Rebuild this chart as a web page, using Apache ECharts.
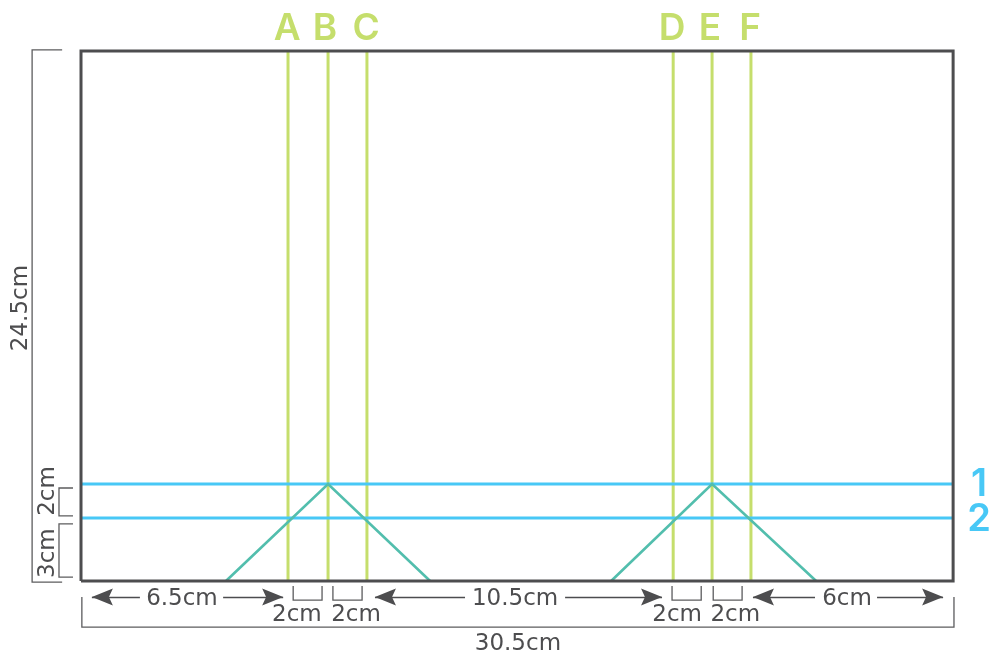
<!DOCTYPE html>
<html><head><meta charset="utf-8">
<style>html,body{margin:0;padding:0;background:#fff}#c{width:990px;height:651px}</style>
<script src="https://cdn.jsdelivr.net/npm/echarts@6/dist/echarts.min.js"></script>
</head><body><div id="c"></div>
<script>
// All values are in the drawing's horizontal / vertical chart units
const sheet = [[0,0],[30.5,0],[30.5,24.5],[0,24.5],[0,0]];
const guideNames = ['A','B','C','D','E','F'];
const guideX = [7.24,8.64,10.0,20.71,22.07,23.43];
const foldNames = ['1','2'];
const foldY = [4.48,2.91];
const peaks = [[[5.07,0],[8.64,4.48],[12.21,0]],[[18.54,0],[22.07,4.48],[25.71,0]]];
const brackets = [
  [[-0.66,24.55],[-1.71,24.55],[-1.71,-0.05],[-0.66,-0.05]],
  [[-0.28,4.30],[-0.77,4.30],[-0.77,3.01],[-0.28,3.01]],
  [[-0.28,2.64],[-0.77,2.64],[-0.77,0.18],[-0.28,0.18]],
  [[7.42,-0.23],[7.42,-0.88],[8.43,-0.88],[8.43,-0.23]],
  [[8.81,-0.23],[8.81,-0.88],[9.83,-0.88],[9.83,-0.23]],
  [[20.67,-0.23],[20.67,-0.88],[21.69,-0.88],[21.69,-0.23]],
  [[22.11,-0.23],[22.11,-0.88],[23.12,-0.88],[23.12,-0.23]],
  [[0.03,-0.74],[0.03,-2.13],[30.53,-2.13],[30.53,-0.74]]
];
const arrowY = -0.74;
const arrows = [[2.06,0.38],[4.97,7.07],[13.43,10.28],[16.93,20.32],[25.67,23.50],[27.84,30.15]];
const dimTexts = ['6.5cm','2cm','2cm','10.5cm','2cm','2cm','6cm','30.5cm'];
const dimPos = [[3.53,-0.84],[7.55,-1.58],[9.62,-1.58],[15.18,-0.84],[20.85,-1.58],[22.88,-1.58],[26.79,-0.84],[15.28,-2.92]];
const sideTexts = ['24.5cm','2cm','3cm'];
const sidePos = [[-2.10,12.62],[-1.15,4.16],[-1.15,1.29]];
const guideLabelPos = [[7.21,25.52],[8.53,25.52],[9.97,25.52],[20.67,25.52],[22.0,25.52],[23.40,25.52]];
const foldLabelPos = [[31.41,4.48],[31.41,2.82]];

const DARK='#4d4d4f', GREEN='#c5de6c', BLUE='#48c8f6', TEAL='#52bead';
const ARROW='path://M16,16 L22.5,32 L16,29 L9.5,32 Z M0,0 L0,0 Z M32,0 L32,0 Z';
const line=(data,color,width,z)=>({type:'line',data,symbol:'none',silent:true,animation:false,z,clip:false,
  lineStyle:{color,width,cap:'butt',join:'miter'}});
const text=(items,color,size,rotate,font,weight)=>({type:'scatter',data:items,symbolSize:0,silent:true,animation:false,z:10,clip:false,
  itemStyle:{opacity:1},
  label:{show:true,position:'inside',formatter:p=>p.name,color,fontSize:size,fontFamily:font,fontWeight:weight||'normal',rotate:rotate||0,opacity:1}});
const named=(names,pos)=>names.map((n,i)=>({name:n,value:pos[i]}));

const series=[
  ...guideX.map(x=>line([[x,0],[x,24.5]],GREEN,3,2)),
  ...foldY.map(y=>line([[0,y],[30.5,y]],BLUE,3,3)),
  ...peaks.map(p=>line(p,TEAL,2.6,4)),
  line(sheet,DARK,3,5),
  ...brackets.map(b=>line(b,'#5c5c5e',1.3,5)),
  {type:'line',data:[],silent:true,animation:false,symbol:'none',
   markLine:{silent:true,animation:false,symbol:['none',ARROW],symbolSize:42,label:{show:false},
     lineStyle:{color:DARK,width:1.4,type:'solid',opacity:1},itemStyle:{color:DARK,opacity:1},
     data:arrows.map(a=>[{coord:[a[0],arrowY],itemStyle:{color:DARK}},{coord:[a[1],arrowY],itemStyle:{color:DARK}}])}},
  text(named(dimTexts,dimPos),DARK,23,0,'DejaVu Sans'),
  text(named(sideTexts,sidePos),DARK,23,90,'DejaVu Sans'),
  text(named(guideNames,guideLabelPos),GREEN,37,0,'Inter',600),
  text(named(foldNames,foldLabelPos),BLUE,38,0,'Inter',600)
];
const chart=echarts.init(document.getElementById('c'),null,{renderer:'canvas'});
chart.setOption({
  animation:false,backgroundColor:'#fff',
  grid:{left:0,right:0,top:0,bottom:0},
  xAxis:{type:'value',min:-2.833,max:31.79,show:false},
  yAxis:{type:'value',min:-3.236,max:26.86,show:false},
  tooltip:{show:false},
  series
});
</script></body></html>
